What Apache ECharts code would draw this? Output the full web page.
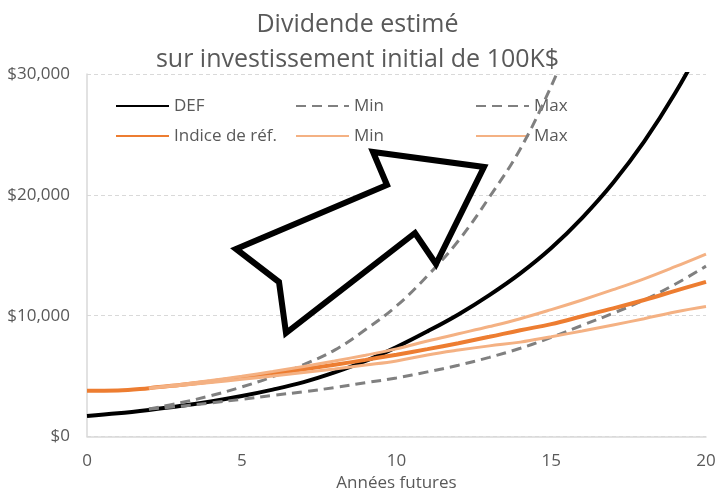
<!DOCTYPE html>
<html>
<head>
<meta charset="utf-8">
<script src="https://cdn.jsdelivr.net/npm/echarts@6/dist/echarts.min.js"></script>
<style>
	html, body { margin: 0; padding: 0; background: #fff; }
	#chart { width: 715px; height: 489px; }
</style>
</head>
<body>
<div id="chart"></div>
<script>
const years = [0, 1, 2, 3, 4, 5, 6, 7, 8, 9, 10, 11, 12, 13, 14, 15, 16, 17, 18, 19, 20];
const defVals = [1700, 1920, 2200, 2520, 2900, 3350, 3880, 4500, 5300, 6250, 7400, 8700, 10100, 11700, 13500, 15600, 18100, 21000, 24400, 28400, 33000];
const defMin = [null, null, 2270, 2500, 2780, 3080, 3400, 3700, 4050, 4450, 4850, 5350, 5900, 6550, 7300, 8200, 9200, 10200, 11300, 12600, 14100];
const defMax = [null, null, 2270, 2780, 3380, 4100, 4950, 5950, 7150, 8850, 10800, 13300, 16200, 19800, 23800, 29000, 35000, null, null, null, null];
const refVals = [3780, 3800, 4000, 4270, 4560, 4870, 5200, 5560, 5940, 6340, 6770, 7230, 7720, 8250, 8800, 9300, 9950, 10600, 11300, 12050, 12800];
const refMin = [null, null, 4000, 4230, 4470, 4730, 5000, 5290, 5590, 5910, 6250, 6750, 7150, 7500, 7810, 8260, 8730, 9230, 9750, 10300, 10750];
const refMax = [null, null, 4000, 4300, 4630, 4990, 5380, 5800, 6250, 6730, 7250, 7900, 8500, 9100, 9750, 10500, 11300, 12150, 13050, 14050, 15100];
const xTicks = [0, 5, 10, 15, 20];
const yTicks = [0, 10000, 20000, 30000];

const font = '"Open Sans", "Noto Sans", sans-serif';
const grey = '#595959';

class DividendChart {
	constructor(el) {
		this.el = el;
		this.chart = echarts.init(this.el, null, { renderer: 'canvas' });
	}

	pairs(vals) {
		return years.map((x, i) => [x, vals[i]]);
	}

	line(name, vals, color, width, type) {
		return {
			name: name,
			type: 'line',
			data: this.pairs(vals),
			smooth: 0.4,
			symbol: 'none',
			lineStyle: { color: color, width: width, type: type || 'solid' },
			itemStyle: { color: color },
			emphasis: { disabled: true }
		};
	}

	legend(left, names) {
		return {
			left: left,
			top: 96,
			padding: 0,
			orient: 'vertical',
			z: 1,
			itemWidth: 53,
			itemHeight: 14,
			itemGap: 10,
			itemStyle: { opacity: 0 },
			data: names,
			formatter: n => n.replace(/^(DEF|Indice) (Min|Max)$/, '$2'),
			textStyle: { color: grey, fontFamily: font, fontSize: 17, lineHeight: 20 }
		};
	}

	draw() {
		this.chart.setOption({
			animation: false,
			title: {
				text: 'Dividende estimé\nsur investissement initial de 100K$',
				left: 'center',
				top: 2,
				textStyle: { color: grey, fontFamily: font, fontSize: 25, fontWeight: 'normal', lineHeight: 35 }
			},
			legend: [
				this.legend(115, ['DEF', 'Indice de réf.']),
				this.legend(295, ['DEF Min', 'Indice Min']),
				this.legend(475, ['DEF Max', 'Indice Max'])
			],
			grid: { left: 87, right: 9, top: 74, bottom: 52.5, outerBoundsMode: 'none' },
			xAxis: {
				type: 'value',
				min: xTicks[0],
				max: xTicks[xTicks.length - 1],
				interval: xTicks[1] - xTicks[0],
				name: 'Années futures',
				nameLocation: 'middle',
				nameGap: 38,
				nameTextStyle: { color: grey, fontFamily: font, fontSize: 17 },
				axisLine: { lineStyle: { color: '#d9d9d9', width: 1.5 } },
				axisTick: { show: false },
				splitLine: { show: false },
				axisLabel: { color: grey, fontFamily: font, fontSize: 17, margin: 16 }
			},
			yAxis: {
				type: 'value',
				min: yTicks[0],
				max: yTicks[yTicks.length - 1],
				interval: yTicks[1] - yTicks[0],
				axisLine: { show: true, lineStyle: { color: '#d9d9d9', width: 1.5 } },
				axisTick: { show: false },
				splitLine: { lineStyle: { color: '#d9d9d9', type: [4, 3] } },
				axisLabel: {
					color: grey, fontFamily: font, fontSize: 17, margin: 17,
					formatter: v => '$' + v.toLocaleString('en-US')
				}
			},
			series: [
				this.line('DEF', defVals, '#000000', 4),
				this.line('DEF Min', defMin, '#808080', 3, [10, 6]),
				this.line('DEF Max', defMax, '#808080', 3, [10, 6]),
				this.line('Indice de réf.', refVals, '#ED7D31', 4),
				this.line('Indice Min', refMin, '#F4B183', 3),
				this.line('Indice Max', refMax, '#F4B183', 3)
			],
			graphic: [{
				type: 'polygon',
				z: 100,
				shape: { points: [[236, 249], [387, 185], [373, 152], [484, 167], [436, 264], [415, 233], [286, 333], [279, 282]] },
				style: { fill: '#ffffff', stroke: '#000000', lineWidth: 6, lineJoin: 'miter' }
			}]
		});
	}
}

new DividendChart(document.getElementById('chart')).draw();
</script>
</body>
</html>
